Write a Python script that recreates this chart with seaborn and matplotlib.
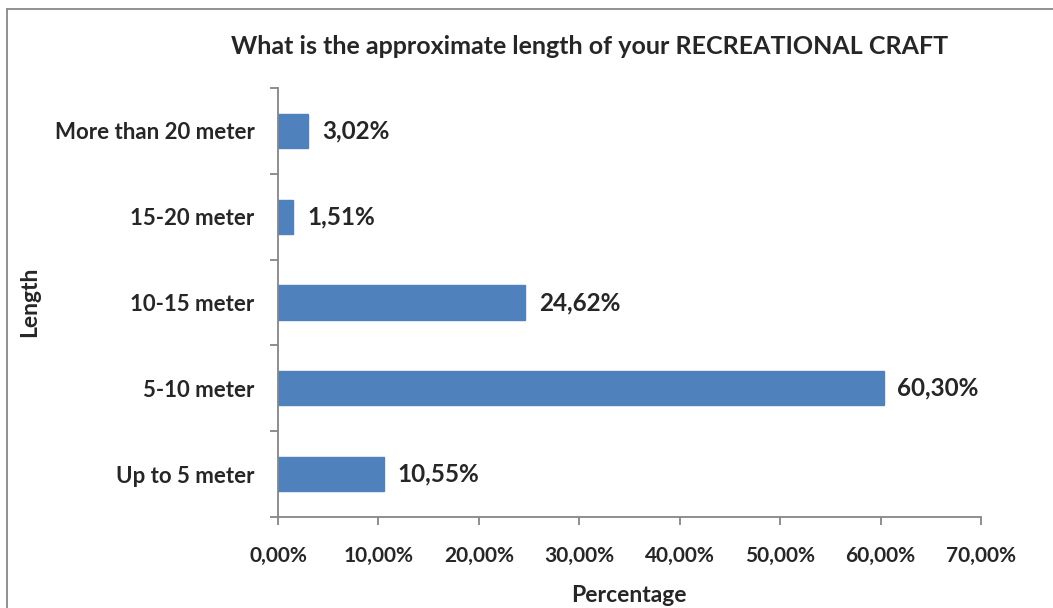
import pandas as pd
import matplotlib.pyplot as plt
import seaborn as sns
from matplotlib.lines import Line2D
from matplotlib.ticker import FuncFormatter, FixedLocator

categories = ['More than 20 meter', '15-20 meter', '10-15 meter', '5-10 meter', 'Up to 5 meter']
values = [3.02, 1.51, 24.62, 60.30, 10.55]
x_ticks = [0, 10, 20, 30, 40, 50, 60, 70]


def pct(v):
    return f'{v:.2f}%'.replace('.', ',')


def plot_length():
    df = pd.DataFrame({'length': categories, 'pct': values})

    sns.set_style('white')
    plt.rcParams['font.family'] = ['Lato', 'DejaVu Sans']
    plt.rcParams['font.weight'] = 'bold'

    fig = plt.figure(figsize=(10.53, 6.08), dpi=100)
    ax = fig.add_axes([278 / 1053, 1 - 517 / 608, (981 - 278) / 1053, (517 - 88) / 608])

    sns.barplot(data=df, x='pct', y='length', order=categories, color='#4F81BD',
                width=0.4, edgecolor='#4F81BD', saturation=1, ax=ax)

    ax.set_xlim(0, 70)
    ax.set_ylim(4.5, -0.5)
    ax.set_xticks(x_ticks)
    ax.xaxis.set_major_formatter(FuncFormatter(lambda x, _: pct(x)))

    ax.yaxis.set_minor_locator(FixedLocator([i - 0.5 for i in range(len(categories) + 1)]))
    ax.tick_params(axis='y', which='major', left=False, length=0, pad=17, labelsize=16)
    ax.tick_params(axis='y', which='minor', left=True, length=6, color='#868686',
                   width=1.3, direction='out')
    ax.tick_params(axis='x', bottom=True, length=6, color='#868686', width=1.3,
                   direction='out', pad=15, labelsize=15)
    for lab in ax.get_xticklabels() + ax.get_yticklabels():
        lab.set_fontweight('bold')

    for side in ['top', 'right']:
        ax.spines[side].set_visible(False)
    for side in ['left', 'bottom']:
        ax.spines[side].set_color('#868686')
        ax.spines[side].set_linewidth(1.3)

    for i, v in enumerate(values):
        ax.annotate(pct(v), (v, i), xytext=(10, 0), textcoords='offset points',
                    va='center', ha='left', fontsize=17.5, fontweight='bold')

    ax.set_xlabel('')
    ax.set_ylabel('')
    fig.text(629 / 1053, 1 - 596 / 608, 'Percentage', ha='center', va='center',
             fontsize=16.5, fontweight='bold')
    fig.text(30 / 1053, 1 - 302 / 608, 'Length', ha='center', va='center',
             rotation=90, fontsize=16.5, fontweight='bold')
    fig.text(590 / 1053, 1 - 47 / 608, 'What is the approximate length of your RECREATIONAL CRAFT',
             ha='center', va='center', fontsize=18, fontweight='bold')

    # outer chart border (only top and left edges fall inside the picture)
    fig.add_artist(Line2D([7 / 1053, 7 / 1053], [0, 1 - 9 / 608], transform=fig.transFigure,
                          color='#888888', lw=1.3))
    fig.add_artist(Line2D([7 / 1053, 1], [1 - 9 / 608, 1 - 9 / 608], transform=fig.transFigure,
                          color='#888888', lw=1.3))

    fig.savefig('out.png', dpi=100)


if __name__ == "__main__":
    plot_length()
